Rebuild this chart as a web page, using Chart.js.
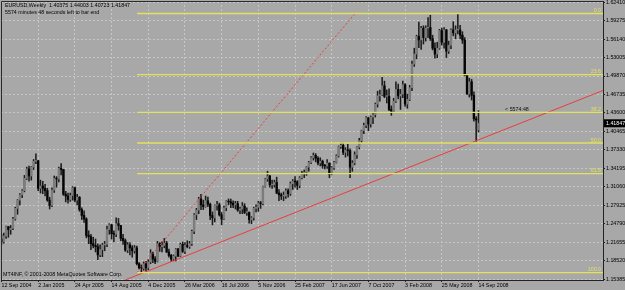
<!DOCTYPE html>
<html>
<head>
<meta charset="utf-8">
<script src="https://cdn.jsdelivr.net/npm/chart.js@4.4.1/dist/chart.umd.min.js"></script>
<style>
  html, body { margin: 0; padding: 0; background: #a8a8a8; }
</style>
</head>
<body>
<canvas id="chart" width="625" height="290"></canvas>
<script>
// EURUSD weekly bars, 12 Sep 2004 .. 14 Sep 2008
const opens = [
  1.2220,1.2170,1.2270,1.2430,1.2380,1.2400,1.2560,1.2740,1.2880,1.2970,
  1.3040,1.3250,1.3410,1.3290,1.3440,1.3540,1.3550,1.3080,1.3120,1.3080,
  1.3040,1.2880,1.2790,1.3050,1.3250,1.3240,1.3420,1.3400,1.2980,1.2950,
  1.2890,1.2960,1.3090,1.2880,1.2930,1.2720,1.2620,1.2560,1.2280,1.2260,
  1.2140,1.2110,1.2090,1.1950,1.2040,1.2120,1.2130,1.2380,1.2460,1.2310,
  1.2300,1.2480,1.2450,1.2230,1.2190,1.2030,1.2120,1.2070,1.2020,1.2070,
  1.1800,1.1730,1.1720,1.1800,1.1730,1.1830,1.1980,1.1880,1.1840,1.2140,
  1.2090,1.2110,1.2150,1.2000,1.1940,1.1880,1.1930,1.2050,1.1930,1.2130,
  1.2010,1.2110,1.2090,1.2140,1.2350,1.2630,1.2710,1.2900,1.2800,1.2770,
  1.2870,1.2810,1.2620,1.2580,1.2790,1.2800,1.2630,1.2560,1.2750,1.2860,
  1.2850,1.2830,1.2800,1.2820,1.2710,1.2730,1.2780,1.2670,1.2670,1.2550,
  1.2580,1.2740,1.2760,1.2830,1.2820,1.3110,1.3240,1.3290,1.3140,1.3140,
  1.3180,1.3000,1.2970,1.2950,1.2950,1.3040,1.2990,1.3160,1.3200,1.3190,
  1.3130,1.3260,1.3340,1.3350,1.3440,1.3520,1.3600,1.3640,1.3590,1.3510,
  1.3540,1.3470,1.3460,1.3510,1.3320,1.3430,1.3520,1.3630,1.3790,1.3810,
  1.3690,1.3730,1.3720,1.3440,1.3510,1.3650,1.3780,1.3890,1.4060,1.4150,
  1.4280,1.4170,1.4290,1.4330,1.4510,1.4650,1.4670,1.4820,1.4640,1.4640,
  1.4420,1.4390,1.4560,1.4760,1.4650,1.4680,1.4840,1.4510,1.4590,1.4790,
  1.5190,1.5360,1.5660,1.5600,1.5800,1.5640,1.5800,1.5810,1.5620,1.5460,
  1.5360,1.5460,1.5760,1.5560,1.5770,1.5410,1.5510,1.5770,1.5720,1.5770,
  1.5770,1.5680,1.5600,1.5000,1.4680,1.4890,1.4660,1.4260,1.4072
];
const highs = [
  1.2300,1.2320,1.2440,1.2430,1.2450,1.2590,1.2760,1.2890,1.2990,1.3060,
  1.3300,1.3440,1.3460,1.3450,1.3570,1.3667,1.3550,1.3220,1.3200,1.3150,
  1.3080,1.2930,1.3090,1.3290,1.3280,1.3440,1.3500,1.3400,1.3030,1.3000,
  1.3000,1.3110,1.3100,1.2980,1.2940,1.2750,1.2700,1.2580,1.2360,1.2300,
  1.2250,1.2220,1.2140,1.2120,1.2150,1.2180,1.2440,1.2480,1.2470,1.2360,
  1.2580,1.2570,1.2450,1.2300,1.2220,1.2160,1.2160,1.2110,1.2110,1.2100,
  1.1820,1.1780,1.1830,1.1840,1.1870,1.2040,1.2000,1.1920,1.2180,1.2160,
  1.2170,1.2230,1.2180,1.2050,1.1960,1.1950,1.2060,1.2060,1.2150,1.2170,
  1.2160,1.2190,1.2180,1.2370,1.2650,1.2740,1.2930,1.2980,1.2880,1.2950,
  1.2930,1.2830,1.2680,1.2800,1.2860,1.2830,1.2670,1.2780,1.2870,1.2900,
  1.2900,1.2870,1.2860,1.2860,1.2760,1.2840,1.2820,1.2750,1.2680,1.2600,
  1.2760,1.2800,1.2860,1.2860,1.3120,1.3250,1.3370,1.3300,1.3220,1.3220,
  1.3270,1.3060,1.3000,1.3020,1.3070,1.3070,1.3190,1.3230,1.3280,1.3210,
  1.3280,1.3370,1.3390,1.3450,1.3540,1.3620,1.3680,1.3670,1.3620,1.3600,
  1.3560,1.3490,1.3570,1.3510,1.3450,1.3540,1.3650,1.3800,1.3850,1.3850,
  1.3770,1.3830,1.3750,1.3550,1.3700,1.3790,1.3930,1.4070,1.4190,1.4300,
  1.4280,1.4310,1.4350,1.4530,1.4730,1.4750,1.4967,1.4900,1.4750,1.4770,
  1.4480,1.4610,1.4890,1.4850,1.4760,1.4900,1.4860,1.4680,1.4830,1.5240,
  1.5460,1.5680,1.5905,1.5830,1.5840,1.5840,1.5980,1.6019,1.5680,1.5550,
  1.5560,1.5780,1.5800,1.5810,1.5780,1.5580,1.5790,1.5910,1.5840,1.6040,
  1.5850,1.5740,1.5640,1.5010,1.4950,1.4930,1.4720,1.4300,1.4400
];
const lows = [
  1.2130,1.2150,1.2230,1.2250,1.2300,1.2380,1.2540,1.2640,1.2800,1.2920,
  1.3020,1.3230,1.3200,1.3220,1.3400,1.3500,1.3040,1.3000,1.2990,1.2950,
  1.2860,1.2730,1.2770,1.3010,1.3100,1.3190,1.3310,1.2960,1.2850,1.2830,
  1.2860,1.2880,1.2850,1.2800,1.2690,1.2550,1.2500,1.2240,1.2140,1.2040,
  1.2070,1.2000,1.1870,1.1920,1.1920,1.2020,1.2090,1.2300,1.2220,1.2170,
  1.2260,1.2370,1.2190,1.2130,1.2010,1.1990,1.1950,1.1910,1.1980,1.1780,
  1.1710,1.1650,1.1690,1.1680,1.1700,1.1800,1.1820,1.1800,1.1830,1.2010,
  1.2000,1.2070,1.1990,1.1910,1.1840,1.1850,1.1850,1.1920,1.1920,1.1990,
  1.1970,1.2070,1.2060,1.2110,1.2310,1.2550,1.2650,1.2720,1.2720,1.2760,
  1.2770,1.2550,1.2460,1.2510,1.2710,1.2610,1.2460,1.2550,1.2700,1.2800,
  1.2750,1.2750,1.2730,1.2690,1.2650,1.2650,1.2650,1.2620,1.2490,1.2480,
  1.2540,1.2680,1.2690,1.2740,1.2800,1.3100,1.3200,1.3100,1.3080,1.3100,
  1.2990,1.2870,1.2890,1.2870,1.2910,1.2930,1.2960,1.3060,1.3100,1.3060,
  1.3090,1.3240,1.3260,1.3300,1.3370,1.3500,1.3560,1.3530,1.3480,1.3460,
  1.3420,1.3410,1.3420,1.3260,1.3310,1.3400,1.3510,1.3610,1.3760,1.3650,
  1.3610,1.3630,1.3260,1.3370,1.3480,1.3590,1.3750,1.3860,1.4010,1.4110,
  1.4060,1.4120,1.4180,1.4290,1.4460,1.4560,1.4660,1.4620,1.4530,1.4400,
  1.4320,1.4380,1.4540,1.4600,1.4420,1.4620,1.4470,1.4440,1.4570,1.4740,
  1.5150,1.5280,1.5470,1.5440,1.5530,1.5580,1.5640,1.5590,1.5430,1.5290,
  1.5300,1.5440,1.5510,1.5460,1.5300,1.5370,1.5450,1.5670,1.5620,1.5700,
  1.5620,1.5540,1.4990,1.4680,1.4630,1.4580,1.4220,1.3881,1.4038
];
const closes = [
  1.2170,1.2270,1.2430,1.2380,1.2400,1.2560,1.2740,1.2880,1.2970,1.3040,
  1.3250,1.3410,1.3290,1.3440,1.3540,1.3550,1.3080,1.3120,1.3080,1.3040,
  1.2880,1.2790,1.3050,1.3250,1.3240,1.3420,1.3400,1.2980,1.2950,1.2890,
  1.2960,1.3090,1.2880,1.2930,1.2720,1.2620,1.2560,1.2280,1.2260,1.2140,
  1.2110,1.2090,1.1950,1.2040,1.2120,1.2130,1.2380,1.2460,1.2310,1.2300,
  1.2480,1.2450,1.2230,1.2190,1.2030,1.2120,1.2070,1.2020,1.2070,1.1800,
  1.1730,1.1720,1.1800,1.1730,1.1830,1.1980,1.1880,1.1840,1.2140,1.2090,
  1.2110,1.2150,1.2000,1.1940,1.1880,1.1930,1.2050,1.1930,1.2130,1.2010,
  1.2110,1.2090,1.2140,1.2350,1.2630,1.2710,1.2900,1.2800,1.2770,1.2870,
  1.2810,1.2620,1.2580,1.2790,1.2800,1.2630,1.2560,1.2750,1.2860,1.2850,
  1.2830,1.2800,1.2820,1.2710,1.2730,1.2780,1.2670,1.2670,1.2550,1.2580,
  1.2740,1.2760,1.2830,1.2820,1.3110,1.3240,1.3290,1.3140,1.3140,1.3180,
  1.3000,1.2970,1.2950,1.2950,1.3040,1.2990,1.3160,1.3200,1.3190,1.3130,
  1.3260,1.3340,1.3350,1.3440,1.3520,1.3600,1.3640,1.3590,1.3510,1.3540,
  1.3470,1.3460,1.3510,1.3320,1.3430,1.3520,1.3630,1.3790,1.3810,1.3690,
  1.3730,1.3720,1.3440,1.3510,1.3650,1.3780,1.3890,1.4060,1.4150,1.4280,
  1.4170,1.4290,1.4330,1.4510,1.4650,1.4670,1.4820,1.4640,1.4640,1.4420,
  1.4390,1.4560,1.4760,1.4650,1.4680,1.4840,1.4510,1.4590,1.4790,1.5190,
  1.5360,1.5660,1.5600,1.5800,1.5640,1.5800,1.5810,1.5620,1.5460,1.5360,
  1.5460,1.5760,1.5560,1.5770,1.5410,1.5510,1.5770,1.5720,1.5770,1.5770,
  1.5680,1.5600,1.5000,1.4680,1.4890,1.4660,1.4260,1.4240,1.41847
];

// time axis labels and the bar they sit on
const dateLabels = ["12 Sep 2004", "2 Jan 2005", "24 Apr 2005", "14 Aug 2005", "4 Dec 2005",
  "26 Mar 2006", "16 Jul 2006", "5 Nov 2006", "25 Feb 2007", "17 Jun 2007", "7 Oct 2007",
  "3 Feb 2008", "25 May 2008", "14 Sep 2008"];
const dateLabelBars = [0, 16, 32, 48, 64, 80, 96, 112, 128, 144, 160, 176, 192, 208];

// price axis labels
const priceTicks = [1.15385, 1.18520, 1.21655, 1.24790, 1.27925, 1.31060, 1.34195, 1.37330,
  1.40465, 1.43600, 1.46735, 1.49870, 1.53005, 1.56140, 1.59275, 1.62410];

// fibo retracement tool: anchors (bar, price) and its levels
const fibLevels = ["0.0", "23.6", "38.2", "50.0", "61.8", "100.0"];
const fibRatios = [0, 0.236, 0.382, 0.5, 0.618, 1];
const fibLowPoint = [59.1, 1.1650];
const fibHighPoint = [154.2, 1.6050];

// trendline (bar, price) through the Nov 2005 and Sep 2008 lows
const trendPoints = [[53.9, 1.1524], [262.3, 1.4742]];

const titleText = "EURUSD,Weekly  1.40375 1.44003 1.40723 1.41847";
const timerText = "5574 minutes 48 seconds left to bar end";
const timerTag = "< 5574:48";
const copyText = "MT4INF, \u00a9 2001-2008 MetaQuotes Software Corp.";

const FONT = '"Liberation Sans", Arial, sans-serif';
const FIB_COLOR = "rgb(226,226,92)";
const RED = "rgb(232,62,62)";

const fibRange = fibHighPoint[1] - fibLowPoint[1];
const fibPrices = fibRatios.map(r => fibHighPoint[1] - r * fibRange);
const xMax = 262.3;

const datasets = [];

fibPrices.forEach(p => {
  datasets.push({
    type: "line",
    data: [{ x: fibLowPoint[0], y: p }, { x: xMax, y: p }],
    borderColor: FIB_COLOR,
    borderWidth: 1.4,
    pointRadius: 0,
    order: 0
  });
});

datasets.push({
  type: "line",
  data: [{ x: fibLowPoint[0], y: fibLowPoint[1] }, { x: fibHighPoint[0], y: fibHighPoint[1] }],
  borderColor: RED,
  borderWidth: 1,
  borderDash: [2, 2],
  pointRadius: 0,
  order: 0
});

datasets.push({
  type: "line",
  data: trendPoints.map(p => ({ x: p[0], y: p[1] })),
  borderColor: RED,
  borderWidth: 1,
  pointRadius: 0,
  order: 0
});

// candle bodies
datasets.push({
  type: "bar",
  data: opens.map((o, i) => ({ x: i, y: [o, closes[i]] })),
  backgroundColor: ctx => closes[ctx.dataIndex] >= opens[ctx.dataIndex] ? "#7c7c7c" : "#050505",
  barThickness: 1.7,
  minBarLength: 0.8,
  grouped: false,
  order: 1
});

// wicks
datasets.push({
  type: "bar",
  data: lows.map((l, i) => ({ x: i, y: [l, highs[i]] })),
  backgroundColor: "#1c1c1c",
  barThickness: 0.9,
  grouped: false,
  order: 2
});

const overlay = {
  id: "overlay",
  beforeDraw(chart) {
    const ctx = chart.ctx;
    ctx.save();
    ctx.fillStyle = "#a8a8a8";
    ctx.fillRect(0, 0, chart.width, chart.height);
    ctx.restore();
  },
  afterDatasetsDraw(chart) {
    const ctx = chart.ctx;
    const area = chart.chartArea;
    const y = chart.scales.y;
    const x = chart.scales.x;
    ctx.save();
    ctx.font = "5.3px " + FONT;
    ctx.fillStyle = FIB_COLOR;
    ctx.textAlign = "right";
    ctx.textBaseline = "alphabetic";
    fibPrices.forEach((p, i) => {
      ctx.fillText(fibLevels[i], area.right - 2, y.getPixelForValue(p) - 1.5);
    });
    // timer tag next to the price
    ctx.fillStyle = "#101010";
    ctx.textAlign = "left";
    ctx.textBaseline = "middle";
    ctx.fillText(timerTag, x.getPixelForValue(219.6), y.getPixelForValue(1.4419));
    ctx.restore();
  },
  afterDraw(chart) {
    const ctx = chart.ctx;
    const area = chart.chartArea;
    const y = chart.scales.y;
    ctx.save();
    ctx.strokeStyle = "#2a2a2a";
    ctx.lineWidth = 1;
    ctx.beginPath();
    ctx.moveTo(area.left + 0.5, area.bottom);
    ctx.lineTo(area.left + 0.5, area.top + 0.5);
    ctx.lineTo(area.right, area.top + 0.5);
    ctx.stroke();

    ctx.font = "5.3px " + FONT;
    ctx.fillStyle = "#000";
    ctx.textAlign = "left";
    ctx.textBaseline = "middle";
    ctx.fillText(titleText, 5, 6);
    ctx.fillText(timerText, 5, 12.5);
    ctx.fillText(copyText, 3, 275);

    // current price box on the axis
    const last = closes[closes.length - 1];
    const py = y.getPixelForValue(last);
    ctx.fillStyle = "#000";
    ctx.fillRect(area.right + 1, py - 4, chart.width - area.right, 8);
    ctx.fillStyle = "#fff";
    ctx.fillText(last.toFixed(5), area.right + 3, py + 0.5);
    ctx.restore();
  }
};

new Chart(document.getElementById("chart"), {
  type: "bar",
  data: { datasets: datasets },
  options: {
    responsive: false,
    devicePixelRatio: 1,
    animation: false,
    layout: { padding: { left: 1, top: 1, right: 0, bottom: 0 } },
    plugins: { legend: { display: false }, tooltip: { enabled: false } },
    scales: {
      x: {
        type: "linear",
        min: -0.22,
        max: xMax,
        offset: false,
        afterBuildTicks: s => { s.ticks = dateLabelBars.map(v => ({ value: v })); },
        afterFit: s => { s.height = 10; s.paddingLeft = 0; s.paddingRight = 0; },
        ticks: {
          callback: (v, i) => dateLabels[i],
          autoSkip: false,
          maxRotation: 0,
          align: "start",
          padding: 0,
          color: "#000",
          font: { family: FONT, size: 5.3 }
        },
        grid: {
          offset: false,
          color: "#c6c6c6",
          tickColor: "#222",
          tickLength: 2,
          tickBorderDash: []
        },
        border: { display: true, color: "#222", width: 1, dash: [2, 2] }
      },
      y: {
        type: "linear",
        position: "right",
        min: 1.1524,
        max: 1.6261,
        afterBuildTicks: s => { s.ticks = priceTicks.map(v => ({ value: v })); },
        afterFit: s => { s.width = 22; s.paddingTop = 0; s.paddingBottom = 0; },
        ticks: {
          callback: v => v.toFixed(5),
          autoSkip: false,
          padding: 1,
          color: "#000",
          font: { family: FONT, size: 5.3 }
        },
        grid: {
          color: "#c6c6c6",
          tickColor: "#222",
          tickLength: 2,
          tickBorderDash: []
        },
        border: { display: true, color: "#222", width: 1, dash: [2, 2] }
      }
    }
  },
  plugins: [overlay]
});
</script>
</body>
</html>
